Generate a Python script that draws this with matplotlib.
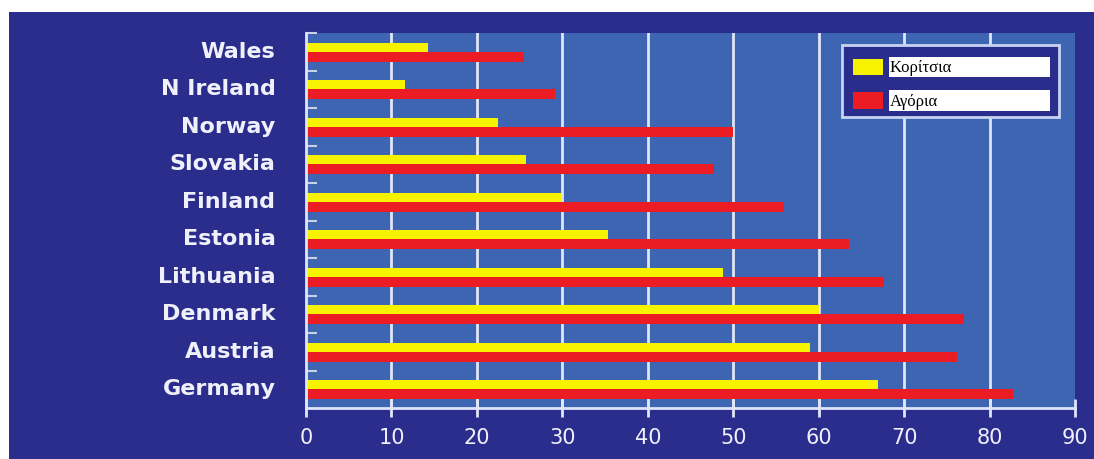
import matplotlib
matplotlib.use("Agg")
import matplotlib.pyplot as plt
from matplotlib.patches import Rectangle
import numpy as np

# Data
countries = ["Wales", "N Ireland", "Norway", "Slovakia", "Finland",
             "Estonia", "Lithuania", "Denmark", "Austria", "Germany"]
girls = [14.3, 11.6, 22.5, 25.7, 30.0, 35.4, 48.8, 60.0, 59.0, 66.9]
boys = [25.5, 29.2, 50.0, 47.8, 56.0, 63.6, 67.7, 77.0, 76.2, 82.8]
series_labels = ["Κορίτσια", "Αγόρια"]
x_ticks = list(range(0, 91, 10))

# Colours
NAVY = "#2b2d8d"
PLOT_BG = "#3d65b1"
YELLOW = "#f7f200"
RED = "#ec1c24"
LINE = "#dfe6fa"
TEXT = "#f0f0fa"

W, H = 1094, 459
fig = plt.figure(figsize=(W / 100, H / 100), dpi=100)
fig.patch.set_facecolor("white")


def fx(px):
    return px / W


def fy(py):
    return 1 - py / H


# dark backdrop panel
fig.patches.append(Rectangle((fx(9), 0), 1 - fx(9), fy(12), transform=fig.transFigure,
                             facecolor=NAVY, edgecolor="none", zorder=-10))

ax = fig.add_axes([fx(306), fy(408), fx(1075) - fx(306), fy(33) - fy(408)])
ax.set_facecolor(PLOT_BG)

rows = np.arange(len(countries))
bar_h = 0.26
ax.barh(rows + 0.385, girls, height=bar_h, color=YELLOW, zorder=3)
ax.barh(rows + 0.635, boys, height=bar_h, color=RED, zorder=3)

for xv in x_ticks[1:-1]:
    ax.axvline(xv, color=LINE, lw=2, zorder=1)

ax.set_xlim(0, 90)
ax.set_ylim(len(countries), 0)

ax.set_xticks(x_ticks)
ax.set_xticklabels([str(v) for v in x_ticks])
ax.tick_params(axis="x", direction="inout", length=13, width=2, color=LINE,
               labelcolor=TEXT, labelsize=15, pad=8)
for lbl in ax.get_xticklabels():
    lbl.set_family("DejaVu Sans")

ax.set_yticks(rows)
ax.set_yticklabels([])
ax.set_yticks(rows + 0.45, minor=True)
ax.set_yticklabels(countries, minor=True)
ax.tick_params(axis="y", which="major", direction="in", length=8, width=1.5,
               color="#c8d0ee")
ax.tick_params(axis="y", which="minor", length=0, pad=22, labelcolor=TEXT,
               labelsize=16)
for lbl in ax.get_yticklabels(minor=True):
    lbl.set_fontweight("bold")
    lbl.set_family("DejaVu Sans")

for side in ("top", "right"):
    ax.spines[side].set_visible(False)
for side in ("left", "bottom"):
    ax.spines[side].set_color(LINE)
    ax.spines[side].set_linewidth(2)
    ax.spines[side].set_zorder(4)

# Legend box
fig.patches.append(Rectangle((fx(842), fy(117)), fx(1059) - fx(842), fy(45) - fy(117),
                             transform=fig.transFigure, facecolor=NAVY,
                             edgecolor="#c8d4f0", lw=2, zorder=5))
swatch_colors = [YELLOW, RED]
rows_px = [(57, 77), (90, 111)]
for (top, bot), col, lab in zip(rows_px, swatch_colors, series_labels):
    fig.patches.append(Rectangle((fx(853), fy(bot - 2)), fx(883) - fx(853), fy(top + 2) - fy(bot - 2),
                                 transform=fig.transFigure, facecolor=col,
                                 edgecolor="none", zorder=6))
    fig.patches.append(Rectangle((fx(889), fy(bot)), fx(1050) - fx(889), fy(top) - fy(bot),
                                 transform=fig.transFigure, facecolor="white",
                                 edgecolor="none", zorder=6))
    fig.text(fx(890), fy((top + bot) / 2 + 1), lab, family="Liberation Serif",
             fontsize=12, color="black", va="center", ha="left", zorder=7)

fig.savefig("out.png", dpi=100, facecolor=fig.get_facecolor())
